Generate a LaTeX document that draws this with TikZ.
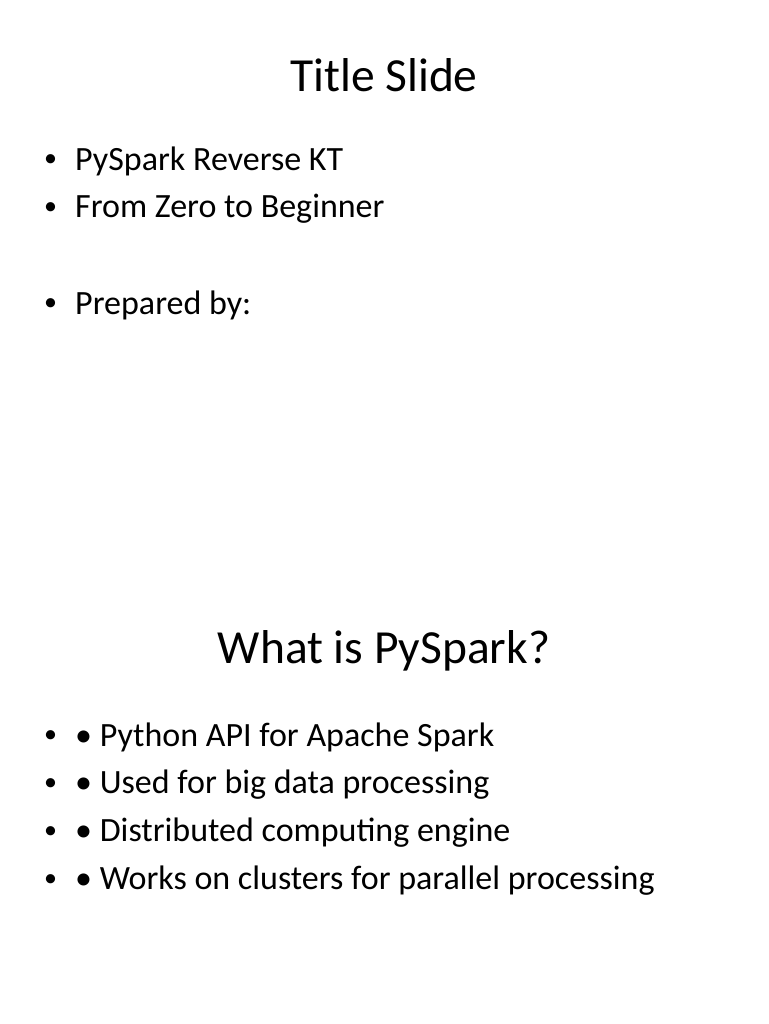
\documentclass[tikz,border=0pt]{standalone}
\usepackage{fontspec}
\setmainfont{Carlito}
\usetikzlibrary{positioning}
\tikzset{
  slidetitle/.style={font=\fontsize{47.5}{56}\selectfont, anchor=center},
  item/.style={font=\fontsize{34}{40}\selectfont, anchor=west, inner sep=0pt},
  dot/.style={font=\fontsize{26}{30}\selectfont, anchor=west, inner sep=0pt}
}
\begin{document}
\begin{tikzpicture}[x=1pt,y=-1pt]
  \useasboundingbox (0,0) rectangle (768,1024);
  % first slide
  \node[slidetitle] (t1) at (384,75) {Title Slide};
  \node[dot] (d1) at (44,161) {•};
  \node[item] (i1) at (75,161) {PySpark Reverse KT};
  \node[dot] (d2) at (44,209) {•};
  \node[item] (i2) at (75,209) {From Zero to Beginner};
  \node[dot] (d3) at (44,305) {•};
  \node[item] (i3) at (75,305) {Prepared by:};
  % second slide
  \node[slidetitle] (t2) at (384,651) {What is PySpark?};
  \foreach \txt [count=\k] in {Python API for Apache Spark, Used for big data processing,
      Distributed computing engine, Works on clusters for parallel processing}{
    \node[dot] (e\k) at (44,{737+48*(\k-1)}) {•};
    \node[item] (j\k) at (75,{737+48*(\k-1)}) {• \txt};
  }
\end{tikzpicture}
\end{document}
